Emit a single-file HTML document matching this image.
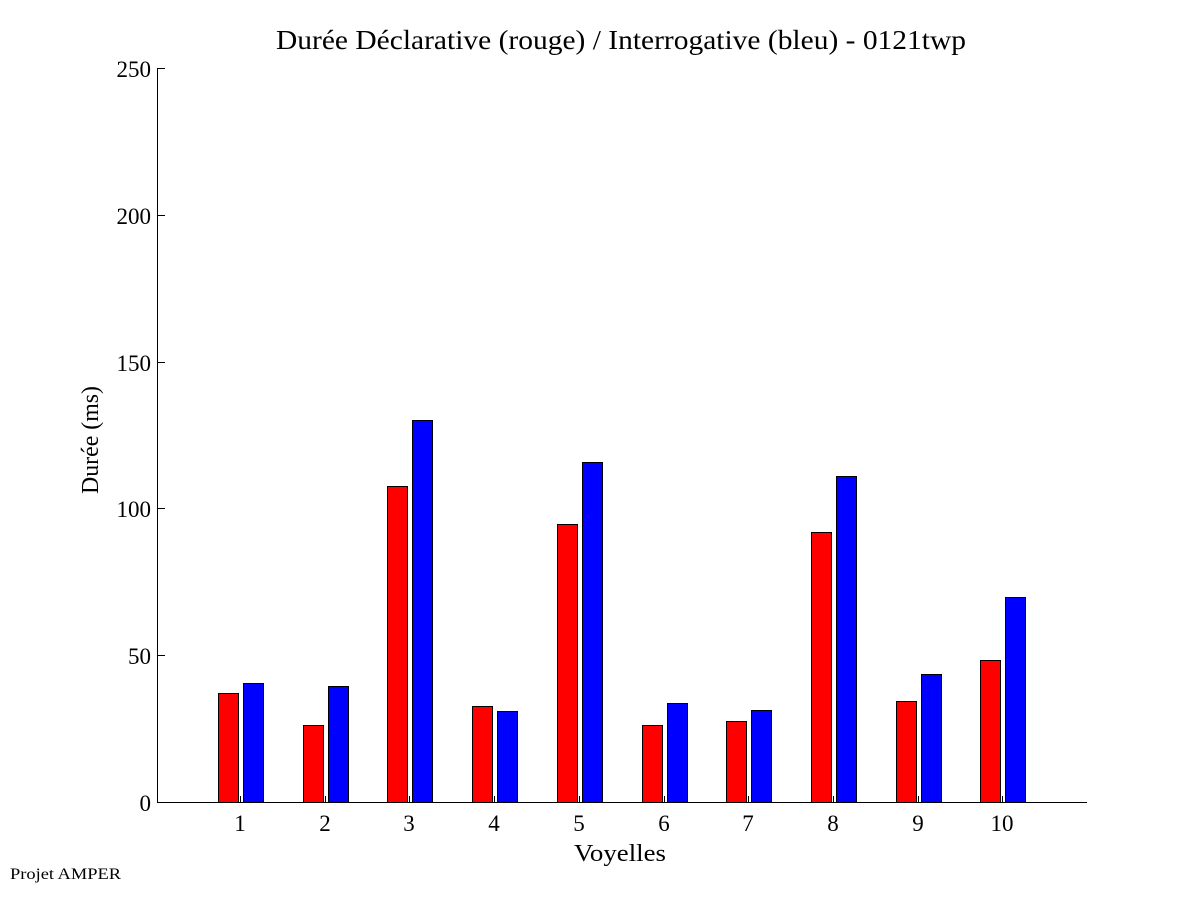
<!DOCTYPE html>
<html><head><meta charset="utf-8"><style>html,body{margin:0;padding:0;background:#fff;}svg{display:block;}</style></head>
<body>
<svg width="1201" height="901" xmlns="http://www.w3.org/2000/svg" font-family="Liberation Serif, serif">
<rect width="1201" height="901" fill="#fff"/>
<text x="621" y="49" font-size="27" text-anchor="middle" textLength="690" lengthAdjust="spacingAndGlyphs">Durée Déclarative (rouge) / Interrogative (bleu) - 0121twp</text>
<g stroke="#000" stroke-width="1" fill="none">
<line x1="157.5" y1="68" x2="157.5" y2="802"/>
<line x1="157" y1="802.5" x2="1087" y2="802.5"/>
<line x1="157" y1="68.5" x2="165" y2="68.5"/>
<line x1="157" y1="215.5" x2="165" y2="215.5"/>
<line x1="157" y1="362.5" x2="165" y2="362.5"/>
<line x1="157" y1="508.5" x2="165" y2="508.5"/>
<line x1="157" y1="655.5" x2="165" y2="655.5"/>
</g>
<g font-size="23" text-anchor="end">
<text x="151" y="77">250</text>
<text x="151" y="224">200</text>
<text x="151" y="371">150</text>
<text x="151" y="517">100</text>
<text x="151" y="664">50</text>
<text x="151" y="811">0</text>
</g>
<text transform="translate(98,440) rotate(-90)" font-size="24" text-anchor="middle" textLength="108" lengthAdjust="spacingAndGlyphs">Durée (ms)</text>
<text x="620" y="861" font-size="24" text-anchor="middle" textLength="92" lengthAdjust="spacingAndGlyphs">Voyelles</text>
<text x="10" y="879" font-size="16" textLength="111" lengthAdjust="spacingAndGlyphs">Projet AMPER</text>
<g stroke="#000" stroke-width="1">
<rect x="218.5" y="693.5" width="20" height="109" fill="#ff0000"/><rect x="243.5" y="683.5" width="20" height="119" fill="#0000ff"/>
<rect x="303.5" y="725.5" width="20" height="77" fill="#ff0000"/><rect x="328.5" y="686.5" width="20" height="116" fill="#0000ff"/>
<rect x="387.5" y="486.5" width="20" height="316" fill="#ff0000"/><rect x="412.5" y="420.5" width="20" height="382" fill="#0000ff"/>
<rect x="472.5" y="706.5" width="20" height="96" fill="#ff0000"/><rect x="497.5" y="711.5" width="20" height="91" fill="#0000ff"/>
<rect x="557.5" y="524.5" width="20" height="278" fill="#ff0000"/><rect x="582.5" y="462.5" width="20" height="340" fill="#0000ff"/>
<rect x="642.5" y="725.5" width="20" height="77" fill="#ff0000"/><rect x="667.5" y="703.5" width="20" height="99" fill="#0000ff"/>
<rect x="726.5" y="721.5" width="20" height="81" fill="#ff0000"/><rect x="751.5" y="710.5" width="20" height="92" fill="#0000ff"/>
<rect x="811.5" y="532.5" width="20" height="270" fill="#ff0000"/><rect x="836.5" y="476.5" width="20" height="326" fill="#0000ff"/>
<rect x="896.5" y="701.5" width="20" height="101" fill="#ff0000"/><rect x="921.5" y="674.5" width="20" height="128" fill="#0000ff"/>
<rect x="980.5" y="660.5" width="20" height="142" fill="#ff0000"/><rect x="1005.5" y="597.5" width="20" height="205" fill="#0000ff"/>
<line x1="240.5" y1="796" x2="240.5" y2="802"/><line x1="325.5" y1="796" x2="325.5" y2="802"/><line x1="409.5" y1="796" x2="409.5" y2="802"/><line x1="494.5" y1="796" x2="494.5" y2="802"/><line x1="579.5" y1="796" x2="579.5" y2="802"/><line x1="664.5" y1="796" x2="664.5" y2="802"/><line x1="748.5" y1="796" x2="748.5" y2="802"/><line x1="833.5" y1="796" x2="833.5" y2="802"/><line x1="918.5" y1="796" x2="918.5" y2="802"/><line x1="1002.5" y1="796" x2="1002.5" y2="802"/>
</g>
<g font-size="23" text-anchor="middle">
<text x="240" y="831">1</text><text x="325" y="831">2</text><text x="409" y="831">3</text><text x="494" y="831">4</text><text x="579" y="831">5</text><text x="664" y="831">6</text><text x="748" y="831">7</text><text x="833" y="831">8</text><text x="918" y="831">9</text><text x="1002" y="831">10</text>
</g>
</svg>
</body></html>
